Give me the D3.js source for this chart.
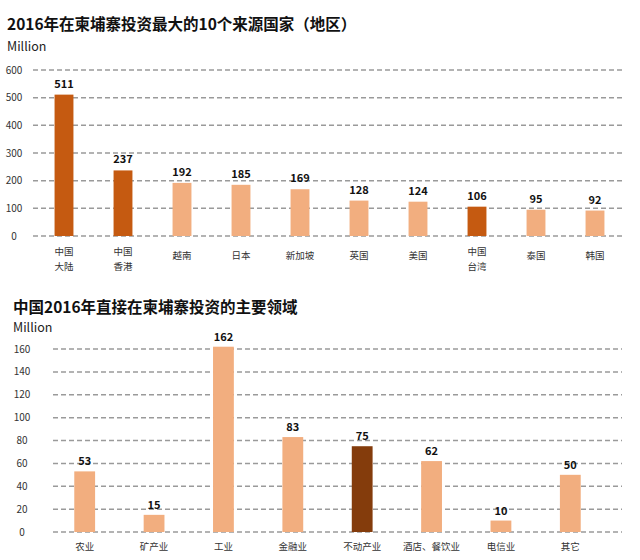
<!DOCTYPE html>
<html><head><meta charset="utf-8">
<script src="https://cdn.jsdelivr.net/npm/d3@7"></script>
<style>body{margin:0;background:#fff}svg{display:block}text{font-family:"Noto Sans CJK SC","Noto Sans",sans-serif}</style>
</head><body><svg id="c" width="640" height="560"></svg>
<script>
const title1 = "2016年在柬埔寨投资最大的10个来源国家（地区）";
const title2 = "中国2016年直接在柬埔寨投资的主要领域";
const unitLabel = "Million";
const countries = ["中国\n大陆","中国\n香港","越南","日本","新加坡","英国","美国","中国\n台湾","泰国","韩国"];
const countryValues = [511,237,192,185,169,128,124,106,95,92];
const countryHighlight = [true,true,false,false,false,false,false,true,false,false];
const countryTicks = [0,100,200,300,400,500,600];
const sectors = ["农业","矿产业","工业","金融业","不动产业","酒店、餐饮业","电信业","其它"];
const sectorValues = [53,15,162,83,75,62,10,50];
const sectorHighlight = [false,false,false,false,true,false,false,false];
const sectorTicks = [0,20,40,60,80,100,120,140,160];

const svg = d3.select("#c");
const light = "#F2AE7F", dark1 = "#C55A11", dark2 = "#843C0C";

function chart(o){
  const g = svg.append("g");
  g.append("text").attr("x",o.titleX).attr("y",o.titleY).attr("font-size",15.5).attr("font-weight","bold").attr("fill","#111").text(o.title);
  g.append("text").attr("x",o.titleX).attr("y",o.unitY).attr("font-size",12.5).attr("fill","#222").attr("font-family","'Open Sans','Noto Sans',sans-serif").text(unitLabel);
  const y = d3.scaleLinear().domain([0,o.max]).range([o.y0,o.y1]);
  const x = d3.scaleBand().domain(o.cats).range(o.xr).paddingInner(o.pad).paddingOuter(o.pad/2);
  g.selectAll("line.grid").data(o.ticks).join("line").attr("class","grid")
    .attr("x1",o.gx[0]).attr("x2",o.gx[1]).attr("y1",d=>y(d)).attr("y2",d=>y(d))
    .attr("stroke","#9a9a9a").attr("stroke-width",1.5).attr("stroke-dasharray","5,3");
  g.selectAll("text.tick").data(o.ticks).join("text").attr("class","tick")
    .attr("x",o.tickX).attr("y",d=>y(d)+3.5).attr("text-anchor","middle").attr("font-size",10).attr("fill","#333")
    .attr("font-family","'Open Sans','Noto Sans',sans-serif").text(d=>d);
  g.selectAll("rect.bar").data(o.vals).join("rect").attr("class","bar")
    .attr("x",(d,i)=>x(o.cats[i])).attr("width",x.bandwidth())
    .attr("y",d=>y(d)).attr("height",d=>y(0)-y(d))
    .attr("fill",(d,i)=>o.hl[i]?o.dark:light);
  g.selectAll("text.val").data(o.vals).join("text").attr("class","val")
    .attr("x",(d,i)=>x(o.cats[i])+x.bandwidth()/2).attr("y",d=>y(d)-o.valOff)
    .attr("text-anchor","middle").attr("font-size",11).attr("font-weight","bold").attr("fill","#111")
    .attr("font-family","'Open Sans','Noto Sans',sans-serif").text(d=>d);
  const lines = [];
  o.cats.forEach(c=>{
    const parts = c.split("\n");
    parts.forEach((p,i)=>lines.push({c, p, y: parts.length>1 ? o.catY + i*14.5 : o.catY1}));
  });
  g.selectAll("text.cat").data(lines).join("text").attr("class","cat")
    .attr("x",d=>x(d.c)+x.bandwidth()/2).attr("y",d=>d.y)
    .attr("text-anchor","middle").attr("font-size",9.5).attr("fill","#333").text(d=>d.p);
}

chart({title:title1,titleX:7,titleY:30,unitY:51,max:600,y0:236,y1:70,xr:[34.5,624.5],pad:0.68,
  cats:countries,vals:countryValues,hl:countryHighlight,ticks:countryTicks,gx:[33,624],tickX:14,
  dark:dark1,valOff:7,catY:255,catY1:259});
chart({title:title2,titleX:13,titleY:313,unitY:332,max:160,y0:532,y1:349,xr:[50,605],pad:0.7,
  cats:sectors,vals:sectorValues,hl:sectorHighlight,ticks:sectorTicks,gx:[53,622],tickX:22,
  dark:dark2,valOff:6,catY:550,catY1:550});
</script></body></html>
